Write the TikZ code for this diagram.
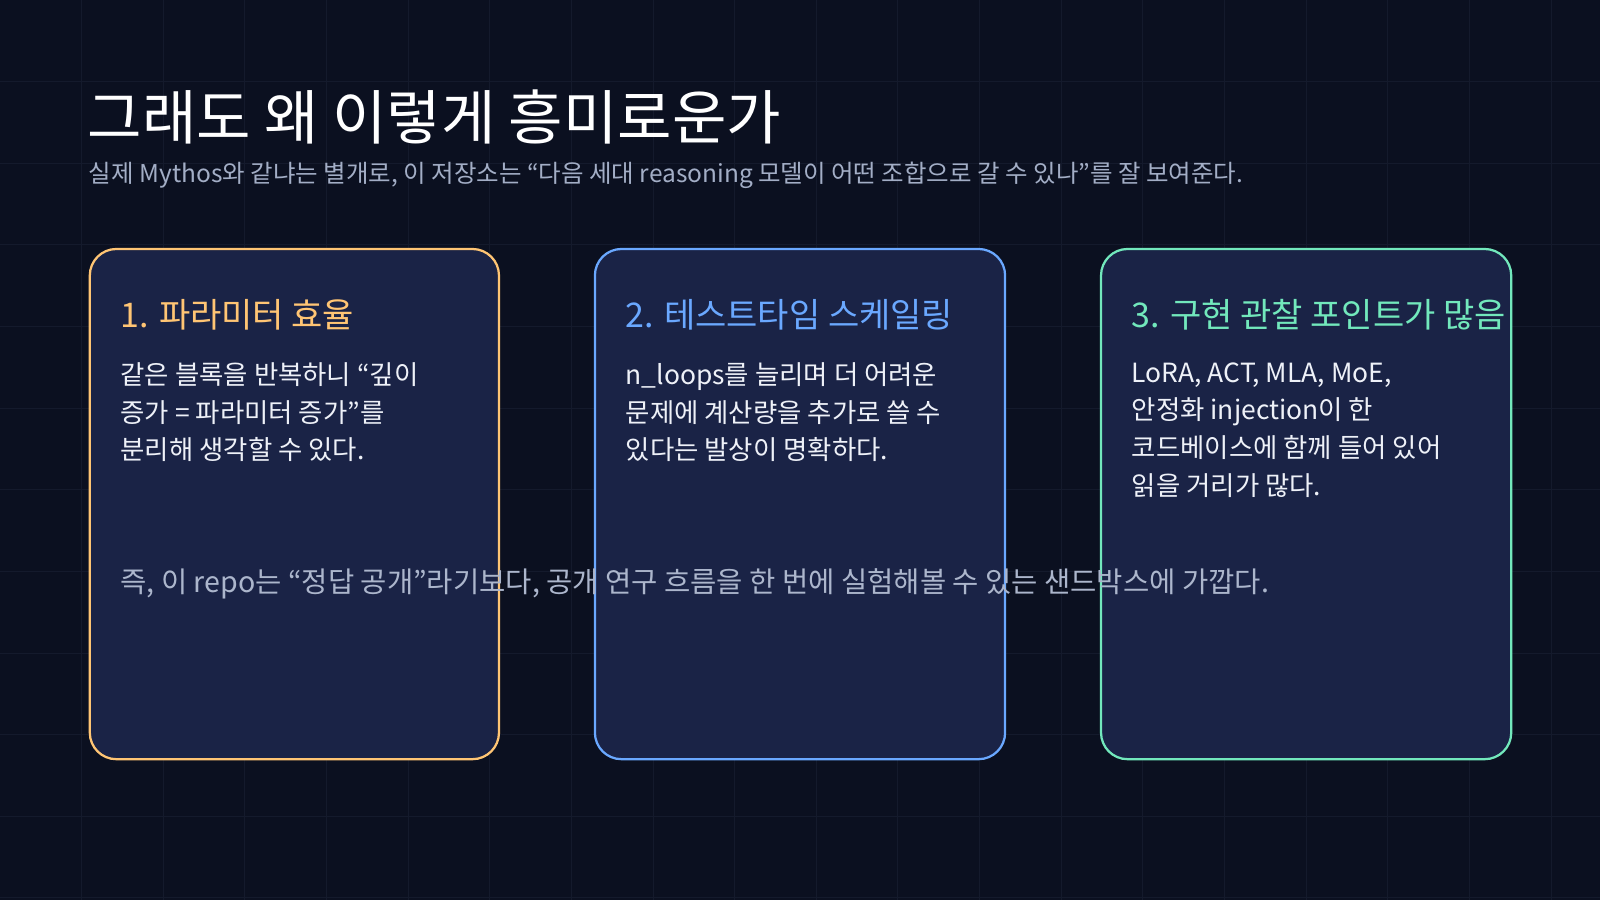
\documentclass[tikz,border=0pt]{standalone}
\usepackage{fontspec}
\setmainfont{Noto Sans CJK KR}
\definecolor{bg}{HTML}{0B1020}
\definecolor{gridc}{HTML}{141A2C}
\definecolor{cardf}{HTML}{1A2346}
\definecolor{corange}{HTML}{FFC574}
\definecolor{cblue}{HTML}{6AA8FF}
\definecolor{cgreen}{HTML}{72E8BC}
\definecolor{subc}{HTML}{A3AEC6}
\definecolor{bodyc}{HTML}{EEF1F8}
\tikzset{
 card/.style={draw=#1, line width=2.2pt, fill=cardf, rounded corners=26pt},
 ctitle/.style={anchor=base west, text=#1, font=\fontsize{33.3}{38}\selectfont},
 cbody/.style={anchor=north west, text=bodyc, font=\fontsize{25.9}{37}\selectfont, align=left, inner sep=0pt},
}
\begin{document}
\begin{tikzpicture}[x=1pt,y=-1pt]
\fill[bg] (0,0) rectangle (1568,882);
\useasboundingbox (0,0) rectangle (1568,882);
\foreach \i in {80,160,...,1560} \draw[gridc, line width=1pt] (\i,0) -- (\i,882);
\foreach \j in {80,160,...,880} \draw[gridc, line width=1pt] (0,\j) -- (1568,\j);
\node[anchor=base west, inner sep=0pt, text=white, font=\fontsize{58}{64}\selectfont] (title) at (86,137) {그래도 왜 이렇게 흥미로운가};
\node[anchor=base west, inner sep=0pt, text=subc, font=\fontsize{24}{30}\selectfont] (sub) at (87,179) {실제 Mythos와 같냐는 별개로, 이 저장소는 “다음 세대 reasoning 모델이 어떤 조합으로 갈 수 있나”를 잘 보여준다.};
\draw[card=corange] (88,244) rectangle (489,744);
\draw[card=cblue] (583,244) rectangle (985,744);
\draw[card=cgreen] (1079,244) rectangle (1481,744);
\node[ctitle=corange, inner sep=0pt] (t1) at (118,321) {1. 파라미터 효율};
\node[ctitle=cblue, inner sep=0pt] (t2) at (613,321) {2. 테스트타임 스케일링};
\node[ctitle=cgreen, inner sep=0pt] (t3) at (1109,321) {3. 구현 관찰 포인트가 많음};
\node[cbody] (b1) at (118,355) {같은 블록을 반복하니 “깊이\\증가 = 파라미터 증가”를\\분리해 생각할 수 있다.};
\node[cbody] (b2) at (613,355) {n\_loops를 늘리며 더 어려운\\문제에 계산량을 추가로 쓸 수\\있다는 발상이 명확하다.};
\node[cbody] (b3) at (1109,355) {LoRA, ACT, MLA, MoE,\\안정화 injection이 한\\코드베이스에 함께 들어 있어\\읽을 거리가 많다.};
\node[anchor=base west, inner sep=0pt, text=subc!90!white, font=\fontsize{28}{32}\selectfont] (foot) at (118,581) {즉, 이 repo는 “정답 공개”라기보다, 공개 연구 흐름을 한 번에 실험해볼 수 있는 샌드박스에 가깝다.};
\end{tikzpicture}
\end{document}
